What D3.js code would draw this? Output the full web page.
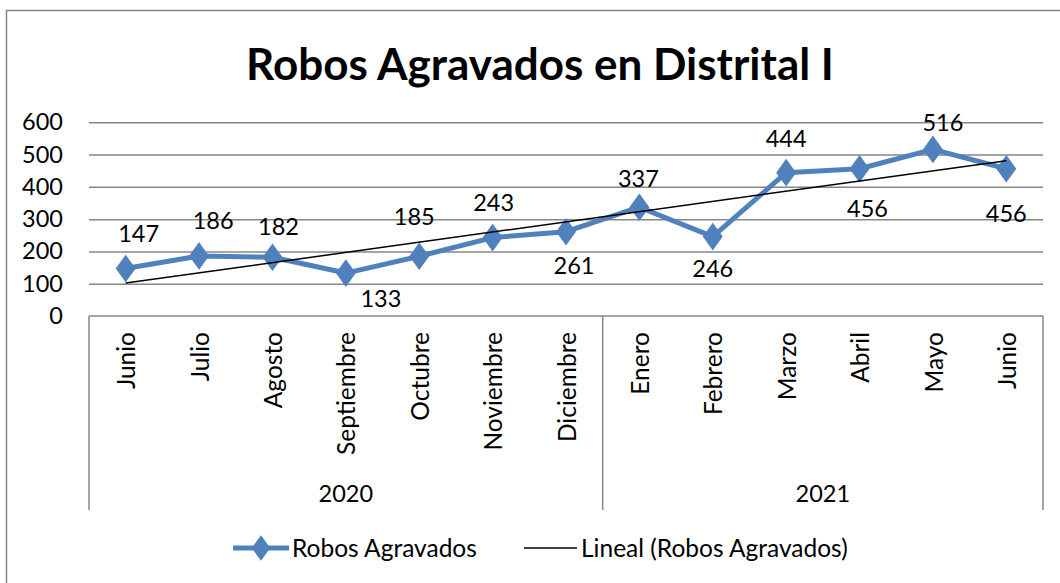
<!DOCTYPE html>
<html><head><meta charset="utf-8">
<script src="https://cdn.jsdelivr.net/npm/d3@7"></script>
<style>
html,body{margin:0;padding:0;background:#fff;}
text{font-family:Lato,"Open Sans",sans-serif;fill:#000;}
</style></head>
<body>
<svg id="chart" width="1060" height="583"></svg>
<script>
const months = ["Junio","Julio","Agosto","Septiembre","Octubre","Noviembre","Diciembre","Enero","Febrero","Marzo","Abril","Mayo","Junio"];
const years = ["2020","2020","2020","2020","2020","2020","2020","2021","2021","2021","2021","2021","2021"];
const robos = [147,186,182,133,185,243,261,337,246,444,456,516,456];
const yTicks = [0,100,200,300,400,500,600];
const title = "Robos Agravados en Distrital I";
const seriesName = "Robos Agravados";
const trendName = "Lineal (Robos Agravados)";
// data-label placement offsets (px, relative to marker)
const labelOffsets = [[13,-35],[14,-35],[6,-30],[35,26],[-5,-40],[1,-35],[8,34],[-1,-28],[0,32],[0,-34],[8,40],[10,-27],[0,45]];

const svg = d3.select("#chart");
const L = 89, R = 1043, T = 122.3, B = 316;
const cats = months.map((m,i)=>i);
const x = d3.scaleBand().domain(cats).range([L,R]).padding(0);
const y = d3.scaleLinear().domain([0,600]).range([B,T]);
const gray = "#868686";
const blue = "#4F81BD";

// outer border
svg.append("rect").attr("x",6.5).attr("y",10.5).attr("width",1100).attr("height",700)
  .attr("fill","none").attr("stroke",gray).attr("stroke-width",1.5);

// title
svg.append("text").attr("x",540).attr("y",80).attr("text-anchor","middle")
  .attr("font-size",44).attr("font-weight","bold").text(title);

// gridlines
const yAxis = d3.axisLeft(y).tickValues(yTicks).tickSize(-(R-L)).tickFormat(d3.format("d")).tickPadding(26);
const gy = svg.append("g").attr("transform",`translate(${L},0)`).call(yAxis);
gy.select(".domain").remove();
gy.selectAll(".tick line").attr("stroke",gray).attr("stroke-width",1.5)
  .filter(d=>d===0).remove();
gy.selectAll(".tick text").attr("font-size",23.5).attr("font-family","Lato");

// x axis line
svg.append("line").attr("x1",L).attr("x2",R).attr("y1",B).attr("y2",B).attr("stroke",gray).attr("stroke-width",1.5);

// group separators
const groups = d3.groups(cats, i=>years[i]);
const bounds = [L];
groups.forEach(([yr, idx])=>{ bounds.push(x(idx[idx.length-1]) + x.bandwidth()); });
bounds.forEach(bx=>{
  svg.append("line").attr("x1",bx).attr("x2",bx).attr("y1",B).attr("y2",510)
    .attr("stroke",gray).attr("stroke-width",1.5);
});

// month labels
const xAxis = d3.axisBottom(x).tickSize(0).tickFormat(i=>months[i]);
const gx = svg.append("g").attr("transform",`translate(0,${B})`).call(xAxis);
gx.select(".domain").remove();
gx.selectAll(".tick text").attr("font-size",24.5).attr("font-family","Lato")
  .attr("transform","rotate(-90)").attr("text-anchor","end")
  .attr("x",-16).attr("y",1).attr("dy","0.35em");

// year labels
groups.forEach(([yr, idx])=>{
  const cx = (x(idx[0]) + x(idx[idx.length-1]) + x.bandwidth())/2;
  svg.append("text").attr("x",cx).attr("y",502).attr("text-anchor","middle").attr("font-size",23.5).text(yr);
});

// trendline (least squares)
const n = robos.length;
const mx = d3.mean(cats), my = d3.mean(robos);
const slope = d3.sum(cats,(i)=>(i-mx)*(robos[i]-my))/d3.sum(cats,i=>(i-mx)*(i-mx));
const icpt = my - slope*mx;
const cx = i => x(i)+x.bandwidth()/2;

// series line
svg.append("path").datum(cats)
  .attr("d", d3.line().x(i=>cx(i)).y(i=>y(robos[i])))
  .attr("fill","none").attr("stroke",blue).attr("stroke-width",5).attr("stroke-linejoin","round");

const diamond = d3.symbol().type(d3.symbolDiamond).size(190);
svg.append("g").selectAll("path").data(cats).join("path")
  .attr("d",diamond).attr("transform",i=>`translate(${cx(i)},${y(robos[i])}) scale(1.25,1)`)
  .attr("fill",blue).attr("stroke",blue).attr("stroke-width",1);

svg.append("line")
  .attr("x1",cx(0)).attr("y1",y(icpt))
  .attr("x2",cx(n-1)).attr("y2",y(icpt+slope*(n-1)))
  .attr("stroke","#000").attr("stroke-width",1.5);

// data labels
svg.append("g").selectAll("text").data(cats).join("text")
  .attr("x",i=>cx(i)+labelOffsets[i][0]).attr("y",i=>y(robos[i])+labelOffsets[i][1])
  .attr("dy","0.35em").attr("text-anchor","middle").attr("font-size",23.5)
  .text(i=>robos[i]);

// legend
const ly = 548;
const lg = svg.append("g");
lg.append("line").attr("x1",233).attr("x2",289).attr("y1",ly).attr("y2",ly).attr("stroke",blue).attr("stroke-width",5);
lg.append("path").attr("d",diamond).attr("transform",`translate(261,${ly}) scale(1.25,1)`).attr("fill",blue);
lg.append("text").attr("x",292).attr("y",ly).attr("dy","0.35em").attr("font-size",24.5).text(seriesName);
lg.append("line").attr("x1",524).attr("x2",577).attr("y1",ly).attr("y2",ly).attr("stroke","#000").attr("stroke-width",1.5);
lg.append("text").attr("x",581).attr("y",ly).attr("dy","0.35em").attr("font-size",24.5).text(trendName);
</script>
</body></html>
